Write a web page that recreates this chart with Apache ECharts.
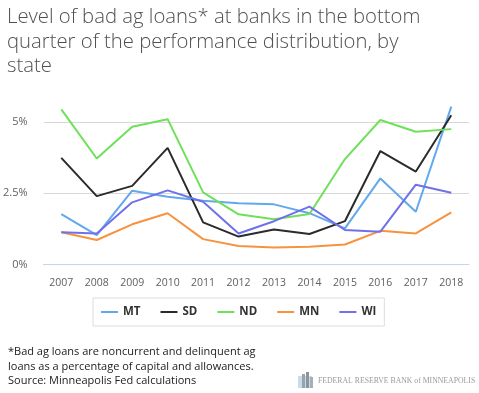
<!DOCTYPE html>
<html><head><meta charset="utf-8">
<script src="https://cdn.jsdelivr.net/npm/echarts@6/dist/echarts.min.js"></script>
<style>html,body{margin:0;padding:0;background:#fff}#c{width:479px;height:393px}</style>
</head><body><div id="c"></div>
<script>
const years = ['2007','2008','2009','2010','2011','2012','2013','2014','2015','2016','2017','2018'];
const MT = [1.77, 1.03, 2.59, 2.38, 2.24, 2.15, 2.11, 1.80, 1.27, 3.02, 1.85, 5.54];
const SD = [3.74, 2.40, 2.76, 4.09, 1.48, 0.98, 1.23, 1.07, 1.52, 3.98, 3.26, 5.24];
const ND = [5.44, 3.72, 4.83, 5.10, 2.53, 1.76, 1.59, 1.77, 3.70, 5.07, 4.66, 4.75];
const MN = [1.13, 0.86, 1.41, 1.80, 0.89, 0.65, 0.60, 0.62, 0.70, 1.18, 1.09, 1.83];
const WI = [1.13, 1.09, 2.18, 2.60, 2.20, 1.09, 1.52, 2.03, 1.21, 1.15, 2.80, 2.52];
const seriesNames = ['MT','SD','ND','MN','WI'];
const seriesData = [MT, SD, ND, MN, WI];
const colors = ['#62a8ec','#2b2b2b','#6fe05a','#f7923f','#7070ea'];
const titleText = 'Level of bad ag loans* at banks in the bottom\nquarter of the performance distribution, by\nstate';
const noteText = '*Bad ag loans are noncurrent and delinquent ag\nloans as a percentage of capital and allowances.\nSource: Minneapolis Fed calculations';

const chart = echarts.init(document.getElementById('c'), null, {renderer:'canvas'});
chart.setOption({
  animation: false,
  color: colors,
  title: {
    text: titleText, left: 2, top: 0,
    textStyle: {fontFamily: 'Open Sans', fontWeight: 300, fontSize: 20.3, lineHeight: 24.5, color: '#505050'}
  },
  legend: {
    data: seriesNames, left: 93, top: 298,
    icon: 'rect', itemWidth: 17, itemHeight: 2, itemGap: 20,
    padding: [8, 8], borderColor: '#dddddd', borderWidth: 1,
    textStyle: {fontFamily: 'Open Sans', fontWeight: 'bold', fontSize: 11.5, color: '#333'}
  },
  grid: {left: 43, right: 10, top: 93.5, bottom: 128.5, containLabel: false},
  xAxis: {
    type: 'category', data: years, boundaryGap: true,
    axisLine: {lineStyle: {color: '#c6d6e6', width: 1}},
    axisTick: {show: false},
    axisLabel: {interval: 0, fontFamily: 'Open Sans', fontSize: 10.5, color: '#606060', margin: 13}
  },
  yAxis: {
    type: 'value', min: 0, max: 6, interval: 2.5,
    axisLine: {show: false}, axisTick: {show: false},
    axisLabel: {fontFamily: 'Open Sans', fontSize: 11, color: '#606060', margin: 16,
      formatter: v => (v === 6 ? '' : v + '%')},
    splitLine: {lineStyle: {color: ['#d8d8d8','#d8d8d8','#d8d8d8','rgba(0,0,0,0)'], width: 1}}
  },
  series: seriesNames.map((n, i) => ({
    name: n, type: 'line', data: seriesData[i], symbol: 'none',
    lineStyle: {width: 2, color: colors[i]}, itemStyle: {color: colors[i]}
  })),
  graphic: [
    {type: 'text', left: 8, top: 345,
      style: {text: noteText, fontFamily: 'Open Sans', fontSize: 11, lineHeight: 14.5, fill: '#222'}},
    {type: 'group', left: 298, top: 372, children: [
      {type: 'rect', shape: {x: 0, y: 4, width: 14, height: 12}, style: {fill: '#c9dcec'}},
      {type: 'rect', shape: {x: 4, y: 2, width: 3, height: 14}, style: {fill: '#9aa3ab'}},
      {type: 'rect', shape: {x: 8, y: 0, width: 3, height: 16}, style: {fill: '#8d959c'}},
      {type: 'rect', shape: {x: 12, y: 5, width: 3, height: 11}, style: {fill: '#a7aeb4'}},
      {type: 'text', x: 20, y: 4, scaleX: 0.86, style: {text: 'FEDERAL RESERVE BANK of MINNEAPOLIS', fontFamily: 'Liberation Serif', fontSize: 9, fill: '#9a9a9a'}}
    ]}
  ]
});
</script></body></html>
